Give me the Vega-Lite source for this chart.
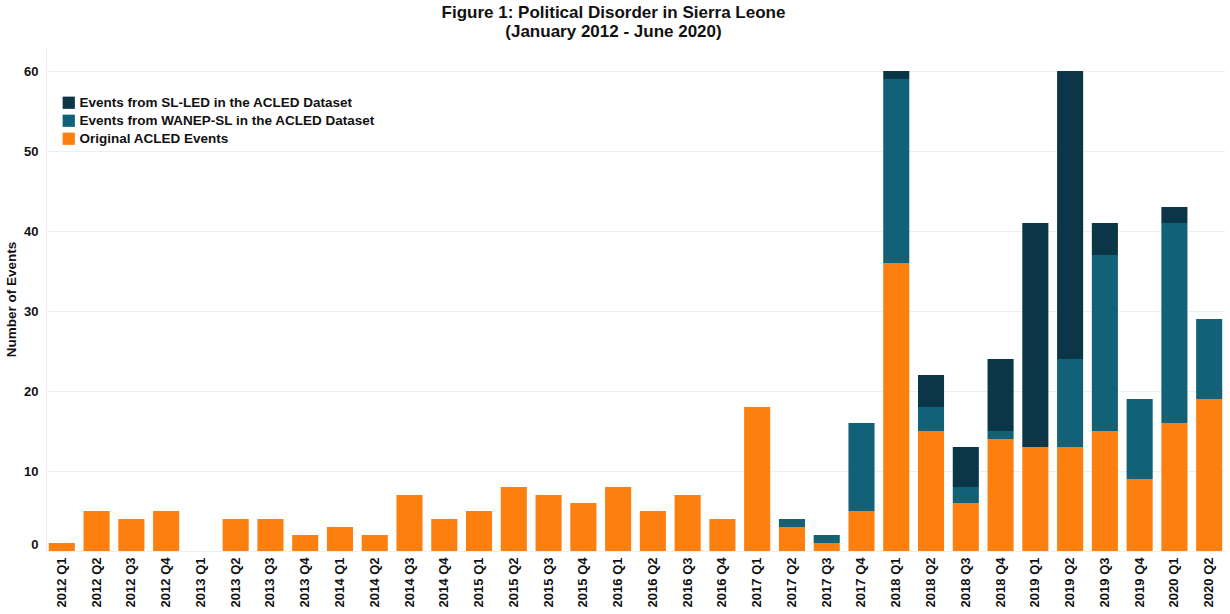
{
  "$schema": "https://vega.github.io/schema/vega-lite/v6.json",
  "autosize": {"type": "none"},
  "padding": {"left": 46, "top": 47, "right": 5, "bottom": 63},
  "width": 1179,
  "height": 504,
  "background": "white",
  "title": {
    "text": ["Figure 1: Political Disorder in Sierra Leone", "(January 2012 - June 2020)"],
    "fontSize": 17,
    "fontWeight": "bold",
    "font": "Liberation Sans",
    "color": "#111111",
    "anchor": "middle",
    "dx": -22,
    "offset": 6,
    "lineHeight": 19
  },
  "data": {
    "values": [
      {"quarter": "2012 Q1", "source": "Original ACLED Events", "events": 1},
      {"quarter": "2012 Q2", "source": "Original ACLED Events", "events": 5},
      {"quarter": "2012 Q3", "source": "Original ACLED Events", "events": 4},
      {"quarter": "2012 Q4", "source": "Original ACLED Events", "events": 5},
      {"quarter": "2013 Q1", "source": "Original ACLED Events", "events": 0},
      {"quarter": "2013 Q2", "source": "Original ACLED Events", "events": 4},
      {"quarter": "2013 Q3", "source": "Original ACLED Events", "events": 4},
      {"quarter": "2013 Q4", "source": "Original ACLED Events", "events": 2},
      {"quarter": "2014 Q1", "source": "Original ACLED Events", "events": 3},
      {"quarter": "2014 Q2", "source": "Original ACLED Events", "events": 2},
      {"quarter": "2014 Q3", "source": "Original ACLED Events", "events": 7},
      {"quarter": "2014 Q4", "source": "Original ACLED Events", "events": 4},
      {"quarter": "2015 Q1", "source": "Original ACLED Events", "events": 5},
      {"quarter": "2015 Q2", "source": "Original ACLED Events", "events": 8},
      {"quarter": "2015 Q3", "source": "Original ACLED Events", "events": 7},
      {"quarter": "2015 Q4", "source": "Original ACLED Events", "events": 6},
      {"quarter": "2016 Q1", "source": "Original ACLED Events", "events": 8},
      {"quarter": "2016 Q2", "source": "Original ACLED Events", "events": 5},
      {"quarter": "2016 Q3", "source": "Original ACLED Events", "events": 7},
      {"quarter": "2016 Q4", "source": "Original ACLED Events", "events": 4},
      {"quarter": "2017 Q1", "source": "Original ACLED Events", "events": 18},
      {"quarter": "2017 Q2", "source": "Original ACLED Events", "events": 3},
      {"quarter": "2017 Q2", "source": "Events from WANEP-SL in the ACLED Dataset", "events": 1},
      {"quarter": "2017 Q3", "source": "Original ACLED Events", "events": 1},
      {"quarter": "2017 Q3", "source": "Events from WANEP-SL in the ACLED Dataset", "events": 1},
      {"quarter": "2017 Q4", "source": "Original ACLED Events", "events": 5},
      {"quarter": "2017 Q4", "source": "Events from WANEP-SL in the ACLED Dataset", "events": 11},
      {"quarter": "2018 Q1", "source": "Original ACLED Events", "events": 36},
      {"quarter": "2018 Q1", "source": "Events from WANEP-SL in the ACLED Dataset", "events": 23},
      {"quarter": "2018 Q1", "source": "Events from SL-LED in the ACLED Dataset", "events": 1},
      {"quarter": "2018 Q2", "source": "Original ACLED Events", "events": 15},
      {"quarter": "2018 Q2", "source": "Events from WANEP-SL in the ACLED Dataset", "events": 3},
      {"quarter": "2018 Q2", "source": "Events from SL-LED in the ACLED Dataset", "events": 4},
      {"quarter": "2018 Q3", "source": "Original ACLED Events", "events": 6},
      {"quarter": "2018 Q3", "source": "Events from WANEP-SL in the ACLED Dataset", "events": 2},
      {"quarter": "2018 Q3", "source": "Events from SL-LED in the ACLED Dataset", "events": 5},
      {"quarter": "2018 Q4", "source": "Original ACLED Events", "events": 14},
      {"quarter": "2018 Q4", "source": "Events from WANEP-SL in the ACLED Dataset", "events": 1},
      {"quarter": "2018 Q4", "source": "Events from SL-LED in the ACLED Dataset", "events": 9},
      {"quarter": "2019 Q1", "source": "Original ACLED Events", "events": 13},
      {"quarter": "2019 Q1", "source": "Events from SL-LED in the ACLED Dataset", "events": 28},
      {"quarter": "2019 Q2", "source": "Original ACLED Events", "events": 13},
      {"quarter": "2019 Q2", "source": "Events from WANEP-SL in the ACLED Dataset", "events": 11},
      {"quarter": "2019 Q2", "source": "Events from SL-LED in the ACLED Dataset", "events": 36},
      {"quarter": "2019 Q3", "source": "Original ACLED Events", "events": 15},
      {"quarter": "2019 Q3", "source": "Events from WANEP-SL in the ACLED Dataset", "events": 22},
      {"quarter": "2019 Q3", "source": "Events from SL-LED in the ACLED Dataset", "events": 4},
      {"quarter": "2019 Q4", "source": "Original ACLED Events", "events": 9},
      {"quarter": "2019 Q4", "source": "Events from WANEP-SL in the ACLED Dataset", "events": 10},
      {"quarter": "2020 Q1", "source": "Original ACLED Events", "events": 16},
      {"quarter": "2020 Q1", "source": "Events from WANEP-SL in the ACLED Dataset", "events": 25},
      {"quarter": "2020 Q1", "source": "Events from SL-LED in the ACLED Dataset", "events": 2},
      {"quarter": "2020 Q2", "source": "Original ACLED Events", "events": 19},
      {"quarter": "2020 Q2", "source": "Events from WANEP-SL in the ACLED Dataset", "events": 10}
    ]
  },
  "mark": {"type": "bar"},
  "encoding": {
    "x": {
      "field": "quarter",
      "type": "ordinal",
      "title": null,
      "scale": {"paddingInner": 0.25, "paddingOuter": 0.08},
      "axis": {
        "labelAngle": 270,
        "labelAlign": "right",
        "labelBaseline": "middle",
        "labelPadding": 6,
        "labelFontSize": 13,
        "ticks": false,
        "domainColor": "#eeeeee",
        "grid": false
      }
    },
    "y": {
      "field": "events",
      "type": "quantitative",
      "aggregate": "sum",
      "title": "Number of Events",
      "scale": {"domain": [0, 63], "nice": false},
      "axis": {
        "values": [0, 10, 20, 30, 40, 50, 60],
        "ticks": false,
        "domainColor": "#eeeeee",
        "gridColor": "#eeeeee",
        "labelPadding": 8,
        "labelFontSize": 13,
        "labelFlush": true,
        "titleFontSize": 13.5,
        "titlePadding": 5
      }
    },
    "color": {
      "field": "source",
      "type": "nominal",
      "scale": {
        "domain": [
          "Events from SL-LED in the ACLED Dataset",
          "Events from WANEP-SL in the ACLED Dataset",
          "Original ACLED Events"
        ],
        "range": ["#0b3647", "#116278", "#fd7f0f"]
      },
      "legend": {
        "title": null,
        "orient": "none",
        "legendX": 16,
        "legendY": 49,
        "symbolType": "square",
        "symbolSize": 150,
        "symbolStrokeWidth": 0,
        "labelFontSize": 13.5,
        "labelFontWeight": "bold",
        "labelColor": "#111111",
        "labelLimit": 0,
        "rowPadding": 3,
        "padding": 0
      }
    },
    "order": {"field": "source", "sort": "descending"}
  },
  "config": {
    "font": "Liberation Sans",
    "view": {"stroke": null},
    "axis": {
      "labelFont": "Liberation Sans",
      "labelFontSize": 12,
      "labelFontWeight": "bold",
      "labelColor": "#111111",
      "titleFont": "Liberation Sans",
      "titleFontSize": 12,
      "titleFontWeight": "bold",
      "titleColor": "#111111"
    }
  }
}
